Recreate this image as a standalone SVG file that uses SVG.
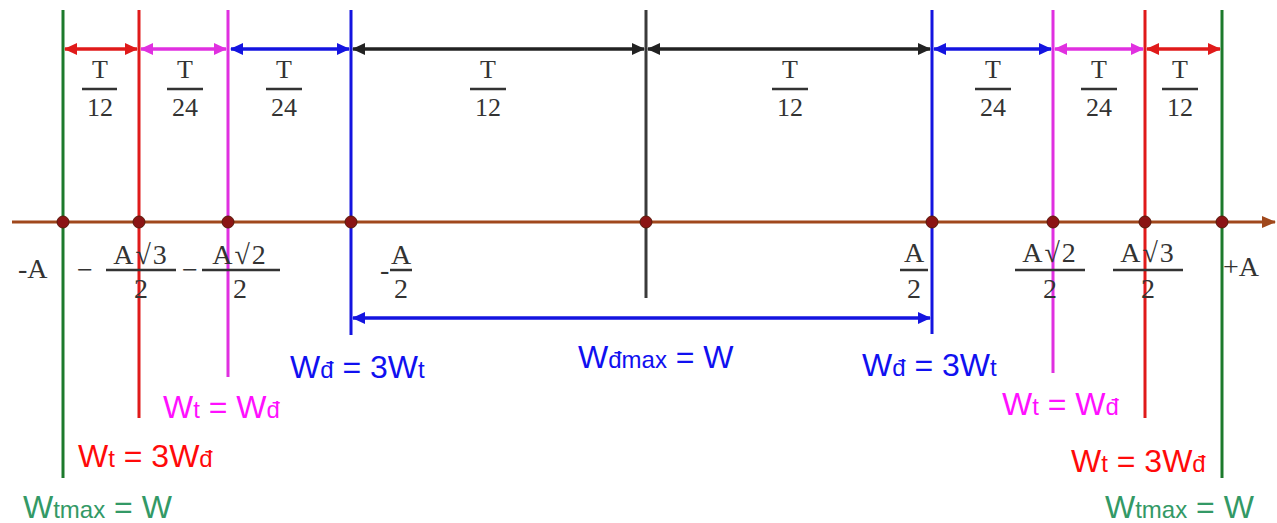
<svg xmlns="http://www.w3.org/2000/svg" width="1277" height="523" viewBox="0 0 1277 523">
<style>
.v{stroke-width:3;fill:none}
.g{stroke:#1c7a2c}.r{stroke:#e01a1a}.m{stroke:#e030e0}.b{stroke:#1414e0}.k{stroke:#3a3a3a}
.arr{stroke-width:3.5}
.fr{font-family:"Liberation Serif","Times New Roman",serif;font-size:26px;fill:#333;text-anchor:middle}
.ax{font-family:"Liberation Serif","Times New Roman",serif;font-size:28px;fill:#333}
.axc{text-anchor:middle}
.bar{stroke:#333;stroke-width:2.5}
.w{font-family:"Liberation Sans",Arial,sans-serif;font-size:32px}
.s{font-size:24px}
.tb{fill:#1010f0}.tm{fill:#ff10ff}.tr{fill:#ff0a0a}.tg{fill:#339966}
.dot{fill:#8b1414;stroke:#5a1a0a;stroke-width:1}
</style>
<defs>
<marker id="ah-r" viewBox="0 0 13 12" refX="12" refY="6" markerWidth="13" markerHeight="12" markerUnits="userSpaceOnUse" orient="auto-start-reverse"><path d="M0,0 L13,6 L0,12 Z" fill="#e01a1a"/></marker>
<marker id="ah-m" viewBox="0 0 13 12" refX="12" refY="6" markerWidth="13" markerHeight="12" markerUnits="userSpaceOnUse" orient="auto-start-reverse"><path d="M0,0 L13,6 L0,12 Z" fill="#e030e0"/></marker>
<marker id="ah-b" viewBox="0 0 13 12" refX="12" refY="6" markerWidth="13" markerHeight="12" markerUnits="userSpaceOnUse" orient="auto-start-reverse"><path d="M0,0 L13,6 L0,12 Z" fill="#1414e0"/></marker>
<marker id="ah-k" viewBox="0 0 13 12" refX="12" refY="6" markerWidth="13" markerHeight="12" markerUnits="userSpaceOnUse" orient="auto-start-reverse"><path d="M0,0 L13,6 L0,12 Z" fill="#222"/></marker>
<marker id="ah-ax" viewBox="0 0 14 12" refX="13" refY="6" markerWidth="14" markerHeight="12" markerUnits="userSpaceOnUse" orient="auto"><path d="M0,0 L14,6 L0,12 Z" fill="#a0481c"/></marker>
</defs>
<rect width="1277" height="523" fill="#fff"/>

<g id="verticals">
<line id="v-negA" class="v g" x1="63" y1="10" x2="63" y2="478"/>
<line id="v-negA3" class="v r" x1="139" y1="10" x2="139" y2="418"/>
<line id="v-negA2" class="v m" x1="228" y1="10" x2="228" y2="377"/>
<line id="v-negA1" class="v b" x1="351" y1="10" x2="351" y2="335"/>
<line id="v-zero" class="v k" x1="646" y1="10" x2="646" y2="298"/>
<line id="v-posA1" class="v b" x1="932" y1="10" x2="932" y2="334"/>
<line id="v-posA2" class="v m" x1="1053" y1="10" x2="1053" y2="373"/>
<line id="v-posA3" class="v r" x1="1145" y1="10" x2="1145" y2="418"/>
<line id="v-posA" class="v g" x1="1222" y1="10" x2="1222" y2="478"/>
</g>

<g id="axis">
<line x1="12" y1="222" x2="1275" y2="222" stroke="#a0481c" stroke-width="3" marker-end="url(#ah-ax)"/>
<circle class="dot" cx="63" cy="222" r="6"/>
<circle class="dot" cx="139" cy="222" r="6"/>
<circle class="dot" cx="228" cy="222" r="6"/>
<circle class="dot" cx="351" cy="222" r="6"/>
<circle class="dot" cx="646" cy="222" r="6"/>
<circle class="dot" cx="932" cy="222" r="6"/>
<circle class="dot" cx="1053" cy="222" r="6"/>
<circle class="dot" cx="1145" cy="222" r="6"/>
<circle class="dot" cx="1222" cy="222" r="6"/>
</g>

<g id="connectors">
<line class="arr r" x1="65" y1="49" x2="137" y2="49" marker-start="url(#ah-r)" marker-end="url(#ah-r)"/>
<line class="arr m" x1="141" y1="49" x2="226" y2="49" marker-start="url(#ah-m)" marker-end="url(#ah-m)"/>
<line class="arr b" x1="231" y1="49" x2="349" y2="49" marker-start="url(#ah-b)" marker-end="url(#ah-b)"/>
<line class="arr" stroke="#222" x1="353" y1="49" x2="644" y2="49" marker-start="url(#ah-k)" marker-end="url(#ah-k)"/>
<line class="arr" stroke="#222" x1="648" y1="49" x2="930" y2="49" marker-start="url(#ah-k)" marker-end="url(#ah-k)"/>
<line class="arr b" x1="934" y1="49" x2="1051" y2="49" marker-start="url(#ah-b)" marker-end="url(#ah-b)"/>
<line class="arr m" x1="1055" y1="49" x2="1143" y2="49" marker-start="url(#ah-m)" marker-end="url(#ah-m)"/>
<line class="arr r" x1="1147" y1="49" x2="1220" y2="49" marker-start="url(#ah-r)" marker-end="url(#ah-r)"/>
<line class="arr b" x1="353" y1="318" x2="930" y2="318" marker-start="url(#ah-b)" marker-end="url(#ah-b)"/>
</g>

<g id="time-labels">
<g id="t1"><text class="fr" x="100" y="78">T</text><line class="bar" x1="82" y1="89" x2="117" y2="89"/><text class="fr" x="100" y="116">12</text></g>
<g id="t2"><text class="fr" x="185" y="78">T</text><line class="bar" x1="167" y1="89" x2="203" y2="89"/><text class="fr" x="185" y="116">24</text></g>
<g id="t3"><text class="fr" x="284" y="78">T</text><line class="bar" x1="266" y1="89" x2="302" y2="89"/><text class="fr" x="284" y="116">24</text></g>
<g id="t4"><text class="fr" x="488" y="78">T</text><line class="bar" x1="470" y1="89" x2="506" y2="89"/><text class="fr" x="488" y="116">12</text></g>
<g id="t5"><text class="fr" x="790" y="78">T</text><line class="bar" x1="772" y1="89" x2="808" y2="89"/><text class="fr" x="790" y="116">12</text></g>
<g id="t6"><text class="fr" x="993" y="78">T</text><line class="bar" x1="975" y1="89" x2="1011" y2="89"/><text class="fr" x="993" y="116">24</text></g>
<g id="t7"><text class="fr" x="1099" y="78">T</text><line class="bar" x1="1081" y1="89" x2="1117" y2="89"/><text class="fr" x="1099" y="116">24</text></g>
<g id="t8"><text class="fr" x="1180" y="78">T</text><line class="bar" x1="1162" y1="89" x2="1198" y2="89"/><text class="fr" x="1180" y="116">12</text></g>
</g>

<g id="position-labels">
<text class="ax" x="18" y="278">-A</text>
<g id="p-negA3"><text class="ax" x="77" y="279">−</text><text class="ax axc" x="141" y="264" letter-spacing="2">A√3</text><line class="bar" x1="106" y1="270" x2="176" y2="270"/><text class="ax axc" x="141" y="298">2</text></g>
<g id="p-negA2"><text class="ax" x="182" y="279">−</text><text class="ax axc" x="240" y="264" letter-spacing="2">A√2</text><line class="bar" x1="202" y1="270" x2="280" y2="270"/><text class="ax axc" x="240" y="298">2</text></g>
<g id="p-negA1"><text class="ax" x="380" y="279">-</text><text class="ax axc" x="401" y="264">A</text><line class="bar" x1="390" y1="270" x2="412" y2="270"/><text class="ax axc" x="401" y="298">2</text></g>
<g id="p-posA1"><text class="ax axc" x="914" y="262">A</text><line class="bar" x1="900" y1="270" x2="928" y2="270"/><text class="ax axc" x="914" y="298">2</text></g>
<g id="p-posA2"><text class="ax axc" x="1050" y="262" letter-spacing="2">A√2</text><line class="bar" x1="1015" y1="270" x2="1085" y2="270"/><text class="ax axc" x="1050" y="298">2</text></g>
<g id="p-posA3"><text class="ax axc" x="1148" y="262" letter-spacing="2">A√3</text><line class="bar" x1="1113" y1="270" x2="1183" y2="270"/><text class="ax axc" x="1148" y="298">2</text></g>
<text class="ax" x="1223" y="276">+A</text>
</g>

<g id="energy-labels">
<text class="w tb" x="290" y="378">W<tspan class="s">đ</tspan> = 3W<tspan class="s">t</tspan></text>
<text class="w tb" x="578" y="368">W<tspan class="s">đmax</tspan> = W</text>
<text class="w tb" x="862" y="376">W<tspan class="s">đ</tspan> = 3W<tspan class="s">t</tspan></text>
<text class="w tm" x="163" y="418">W<tspan class="s">t</tspan> = W<tspan class="s">đ</tspan></text>
<text class="w tm" x="1002" y="415">W<tspan class="s">t</tspan> = W<tspan class="s">đ</tspan></text>
<text class="w tr" x="78" y="467">W<tspan class="s">t</tspan> = 3W<tspan class="s">đ</tspan></text>
<text class="w tr" x="1071" y="472">W<tspan class="s">t</tspan> = 3W<tspan class="s">đ</tspan></text>
<text class="w tg" x="23" y="518">W<tspan class="s">tmax</tspan> = W</text>
<text class="w tg" x="1105" y="518">W<tspan class="s">tmax</tspan> = W</text>
</g>
</svg>
